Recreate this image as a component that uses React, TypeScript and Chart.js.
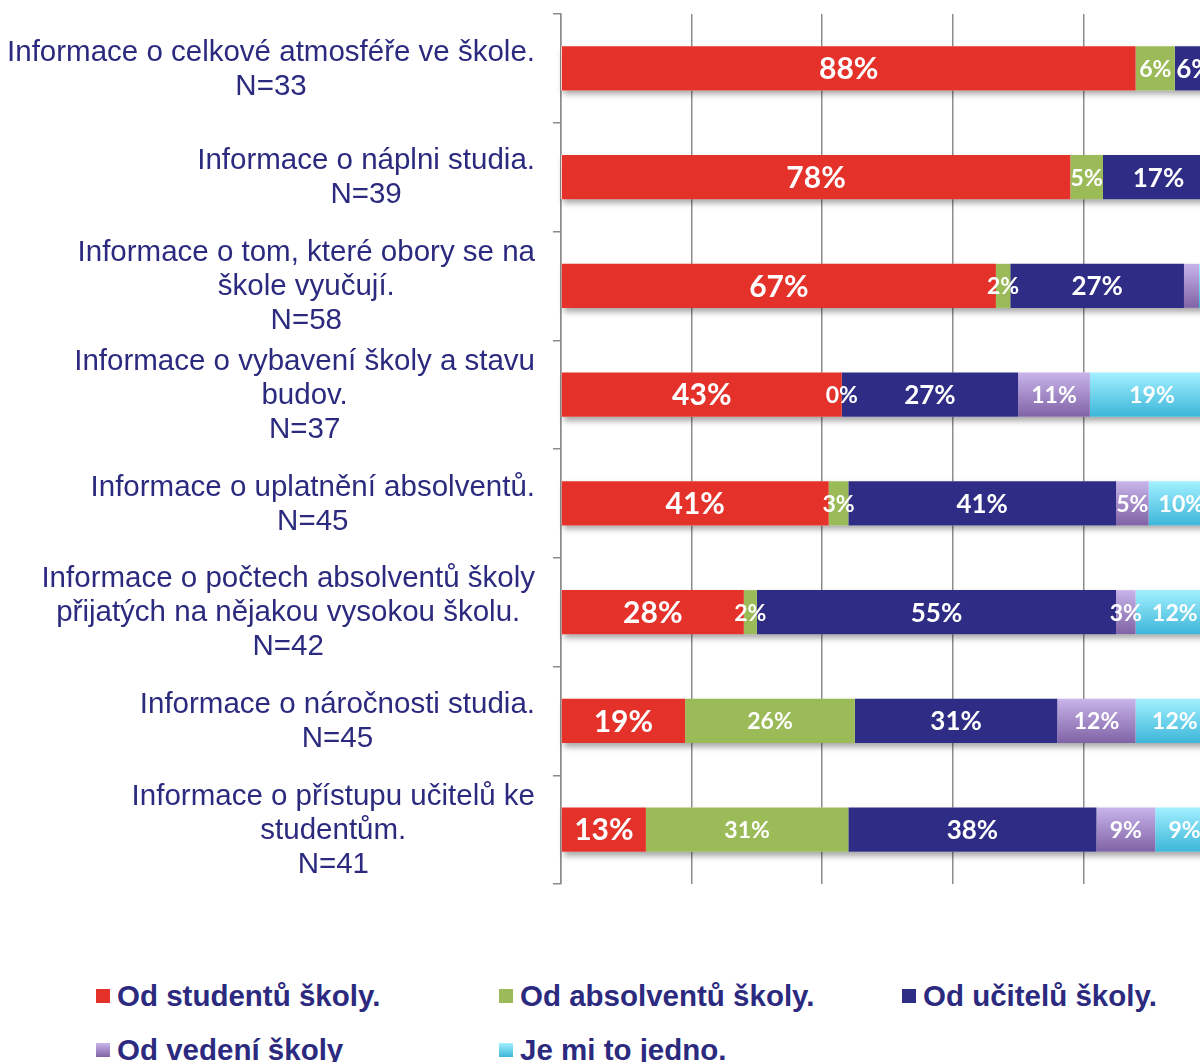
import React, { useEffect, useRef } from "react";
import { Chart, registerables } from "chart.js";

Chart.register(...registerables);

// ---------- data ----------
const categories: string[][] = [
  ["Informace o celkové atmosféře ve škole.", "N=33"],
  ["Informace o náplni studia.", "N=39"],
  ["Informace o tom, které obory se na", "škole vyučují.", "N=58"],
  ["Informace o vybavení školy a stavu", "budov.", "N=37"],
  ["Informace o uplatnění absolventů.", "N=45"],
  ["Informace o počtech absolventů školy", "přijatých na nějakou vysokou školu.", "N=42"],
  ["Informace o náročnosti studia.", "N=45"],
  ["Informace o přístupu učitelů ke", "studentům.", "N=41"],
];

const seriesNames = [
  "Od studentů školy.",
  "Od absolventů školy.",
  "Od učitelů školy.",
  "Od vedení školy",
  "Je mi to jedno.",
];

const fromStudents = [88, 78, 66.6, 43, 41, 28, 19, 13];
const fromGraduates = [6, 5, 2.2, 0, 3, 2, 26, 31];
const fromTeachers = [6, 17, 26.6, 27, 41, 55, 31, 38];
const fromManagement: (number | null)[] = [null, null, 2.3, 11, 5, 3, 12, 9];
const indifferent: (number | null)[] = [null, null, 2.3, 19, 10, 12, 12, 9];

// segments whose value label is not shown in the original: [series, category]
const unlabeled: [number, number][] = [
  [3, 2],
  [4, 2],
];

const xTickValues = [0, 20, 40, 60, 80, 100];

// ---------- styles ----------
const NAVY_TEXT = "#2B2A7F";
const seriesTop = ["#E4322B", "#9BBB59", "#2E2C84", "#C8B4EA", "#A2F0FF"];
const seriesBottom = ["#E4322B", "#9BBB59", "#2E2C84", "#8063A6", "#3DB6D9"];
const labelSizes = [30, 23, 26, 23, 23];
const BAR_FRACTION = 0.405;
const TEXT_SIZE = 29.5;

function fillFor(i: number) {
  if (seriesTop[i] === seriesBottom[i]) return seriesTop[i];
  return (c: any) => {
    const chart = c.chart;
    const y = chart.scales && chart.scales.y;
    if (!y || c.dataIndex === undefined || !chart.chartArea) return seriesBottom[i];
    const center = y.getPixelForValue(c.dataIndex);
    const band = Math.abs(y.getPixelForValue(1) - y.getPixelForValue(0));
    const half = (band * BAR_FRACTION) / 2;
    const g = chart.ctx.createLinearGradient(0, center - half, 0, center + half);
    g.addColorStop(0, seriesTop[i]);
    g.addColorStop(1, seriesBottom[i]);
    return g;
  };
}

const shadowPlugin = {
  id: "barShadow",
  beforeDatasetsDraw(chart: any) {
    const metas = chart.getSortedVisibleDatasetMetas();
    if (!metas.length) return;
    const ctx = chart.ctx;
    ctx.save();
    ctx.shadowColor = "rgba(0,0,0,0.35)";
    ctx.shadowBlur = 6;
    ctx.shadowOffsetX = 2;
    ctx.shadowOffsetY = 4;
    ctx.fillStyle = "#ffffff";
    metas[0].data.forEach((el: any, i: number) => {
      let left = el.base;
      let right = el.x;
      metas.forEach((m: any) => {
        const e = m.data[i];
        if (e && !isNaN(e.x)) {
          right = Math.max(right, e.x);
          left = Math.min(left, e.base);
        }
      });
      const h = el.height;
      ctx.fillRect(left, el.y - h / 2, right - left, h);
    });
    ctx.restore();
  },
};

const valueLabelPlugin = {
  id: "valueLabels",
  afterDatasetsDraw(chart: any) {
    const ctx = chart.ctx;
    ctx.save();
    ctx.fillStyle = "#ffffff";
    ctx.textAlign = "center";
    ctx.textBaseline = "middle";
    chart.data.datasets.forEach((ds: any, di: number) => {
      const meta = chart.getDatasetMeta(di);
      ctx.font = `bold ${labelSizes[di]}px Lato, "Open Sans", sans-serif`;
      meta.data.forEach((el: any, i: number) => {
        const v = ds.data[i];
        if (v === null || v === undefined) return;
        if (unlabeled.some(([s, c]) => s === di && c === i)) return;
        const cx = (el.x + el.base) / 2;
        ctx.fillText(`${Math.round(v)}%`, cx, el.y + 1);
      });
    });
    ctx.restore();
  },
};

const categoryLabelPlugin = {
  id: "categoryLabels",
  afterDraw(chart: any) {
    const ctx = chart.ctx;
    const y = chart.scales.y;
    const rightEdge = chart.chartArea.left - 26;
    const lineH = 34;
    ctx.save();
    ctx.fillStyle = NAVY_TEXT;
    ctx.font = `${TEXT_SIZE}px "Liberation Sans", Arial, sans-serif`;
    ctx.textAlign = "center";
    ctx.textBaseline = "middle";
    categories.forEach((lines, i) => {
      const cy = y.getPixelForValue(i);
      const maxW = Math.max(...lines.map((l) => ctx.measureText(l).width));
      const cx = rightEdge - maxW / 2;
      const startY = cy - ((lines.length - 1) * lineH) / 2 + 1;
      lines.forEach((l, k) => ctx.fillText(l, cx, startY + k * lineH));
    });
    ctx.restore();
  },
};

function ChartView() {
  const ref = useRef<HTMLCanvasElement | null>(null);
  useEffect(() => {
    if (!ref.current) return;
    const series = [fromStudents, fromGraduates, fromTeachers, fromManagement, indifferent];
    const chart = new Chart(ref.current, {
      type: "bar",
      data: {
        labels: categories.map((c) => c.join(" ")),
        datasets: series.map((d, i) => ({
          label: seriesNames[i],
          data: d as any,
          backgroundColor: fillFor(i) as any,
          borderWidth: 0,
          barPercentage: BAR_FRACTION,
          categoryPercentage: 1,
        })),
      },
      options: {
        indexAxis: "y",
        responsive: false,
        animation: false,
        layout: { padding: { top: 14, right: 0, bottom: 16, left: 0 } },
        plugins: { legend: { display: false }, tooltip: { enabled: false } },
        scales: {
          x: {
            stacked: true,
            min: xTickValues[0],
            max: xTickValues[xTickValues.length - 1],
            ticks: { display: false, stepSize: xTickValues[1] - xTickValues[0] },
            grid: { color: "#8c8c8c", lineWidth: 1.5, drawTicks: false },
            border: { display: false },
          },
          y: {
            stacked: true,
            afterFit: (s: any) => {
              s.width = 561;
            },
            ticks: { display: false },
            grid: {
              display: true,
              drawOnChartArea: false,
              drawTicks: true,
              tickLength: 8,
              offset: true,
              color: "#8c8c8c",
              lineWidth: 1.5,
            },
            border: { display: true, color: "#8c8c8c", width: 1.5 },
          },
        },
      },
      plugins: [shadowPlugin, valueLabelPlugin, categoryLabelPlugin],
    });
    return () => chart.destroy();
  }, []);
  return <canvas ref={ref} width={1214} height={900} style={{ display: "block", width: 1214, height: 900 }} />;
}

function Legend() {
  return (
    <>
      {seriesNames.map((name, i) => {
        const col = i % 3;
        const row = Math.floor(i / 3);
        const bg =
          seriesTop[i] === seriesBottom[i]
            ? seriesTop[i]
            : `linear-gradient(to bottom, ${seriesTop[i]}, ${seriesBottom[i]})`;
        return (
          <div
            key={name}
            style={{
              position: "absolute",
              left: 96 + col * 403,
              top: 979 + row * 54,
              height: 34,
              display: "flex",
              alignItems: "center",
              whiteSpace: "nowrap",
              font: `bold ${TEXT_SIZE}px "Liberation Sans", Arial, sans-serif`,
              color: NAVY_TEXT,
            }}
          >
            <span style={{ display: "inline-block", width: 14, height: 14, background: bg, marginRight: 7 }} />
            <span>{name}</span>
          </div>
        );
      })}
    </>
  );
}

export default function App() {
  return (
    <div
      style={{
        position: "fixed",
        left: 0,
        top: 0,
        width: 1200,
        height: 1062,
        overflow: "hidden",
        background: "#ffffff",
      }}
    >
      <ChartView />
      <Legend />
    </div>
  );
}
